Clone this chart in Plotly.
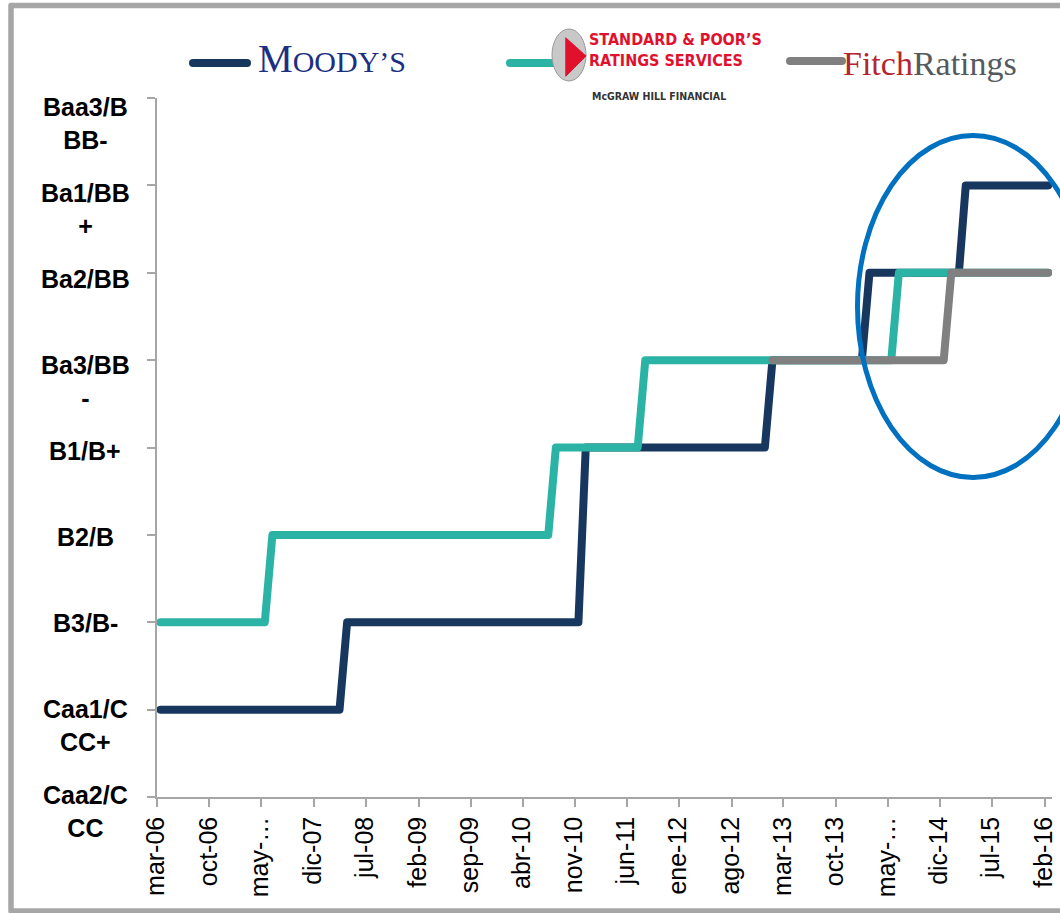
import plotly.graph_objects as go

# ---------------- data ----------------
rating_scale = ["Caa2/CCC", "Caa1/CCC+", "B3/B-", "B2/B", "B1/B+",
                "Ba3/BB-", "Ba2/BB", "Ba1/BB+", "Baa3/BBB-"]
rating_labels = ["Caa2/C<br>CC", "Caa1/C<br>CC+", "B3/B-", "B2/B", "B1/B+",
                 "Ba3/BB<br>-", "Ba2/BB", "Ba1/BB<br>+", "Baa3/B<br>BB-"]

moodys_dates = ["2006-03-15", "2008-03-15", "2008-04-15", "2010-11-15", "2010-12-15",
                "2012-12-15", "2013-01-15", "2014-01-15", "2014-02-15", "2015-02-15",
                "2015-03-15", "2016-02-15"]
moodys_ratings = ["Caa1/CCC+", "Caa1/CCC+", "B3/B-", "B3/B-", "B1/B+",
                  "B1/B+", "Ba3/BB-", "Ba3/BB-", "Ba2/BB", "Ba2/BB",
                  "Ba1/BB+", "Ba1/BB+"]

sp_dates = ["2006-03-15", "2007-05-15", "2007-06-15", "2010-07-15", "2010-08-15",
            "2011-07-15", "2011-08-15", "2014-05-15", "2014-06-15", "2016-02-15"]
sp_ratings = ["B3/B-", "B3/B-", "B2/B", "B2/B", "B1/B+",
              "B1/B+", "Ba3/BB-", "Ba3/BB-", "Ba2/BB", "Ba2/BB"]

fitch_dates = ["2013-01-15", "2014-12-15", "2015-01-15", "2016-02-15"]
fitch_ratings = ["Ba3/BB-", "Ba3/BB-", "Ba2/BB", "Ba2/BB"]

tick_dates = ["2006-03-01", "2006-10-01", "2007-05-01", "2007-12-01", "2008-07-01",
              "2009-02-01", "2009-09-01", "2010-04-01", "2010-11-01", "2011-06-01",
              "2012-01-01", "2012-08-01", "2013-03-01", "2013-10-01", "2014-05-01",
              "2014-12-01", "2015-07-01", "2016-02-01"]
tick_labels = ["mar-06", "oct-06", "may-…", "dic-07", "jul-08", "feb-09", "sep-09",
               "abr-10", "nov-10", "jun-11", "ene-12", "ago-12", "mar-13", "oct-13",
               "may-…", "dic-14", "jul-15", "feb-16"]

# ---------------- styles ----------------
NAVY = "#17375e"
TEAL = "#2bb3a5"
GRAY = "#808080"
AXIS = "#a6a6a6"

W, H = 1060, 913
L, R, T, B = 157, 8, 98, 116
PW, PH = W - L - R, H - T - B


def px(x):
    return (x - L) / PW


def py(y):
    return (H - B - y) / PH


def to_idx(ratings):
    return [rating_scale.index(r) for r in ratings]


fig = go.Figure()
fig.add_trace(go.Scatter(x=moodys_dates, y=to_idx(moodys_ratings), name="Moody's",
                         mode="lines", line=dict(color=NAVY, width=8)))
fig.add_trace(go.Scatter(x=sp_dates, y=to_idx(sp_ratings), name="Standard & Poor's",
                         mode="lines", line=dict(color=TEAL, width=8)))
fig.add_trace(go.Scatter(x=fitch_dates, y=to_idx(fitch_ratings), name="Fitch Ratings",
                         mode="lines", line=dict(color=GRAY, width=8)))

fig.update_layout(
    width=W, height=H,
    margin=dict(l=L, r=R, t=T, b=B, pad=0, autoexpand=False),
    paper_bgcolor="white", plot_bgcolor="white",
    showlegend=False,
    font=dict(family="Liberation Sans, Arial, sans-serif", color="black"),
)

fig.update_xaxes(
    type="date", range=["2006-03-01", "2016-03-01"],
    tickmode="array", tickvals=tick_dates, ticktext=tick_labels,
    tickangle=-90, tickfont=dict(size=25, color="black"),
    ticklabelshift=-1, ticklabeloverflow="allow", automargin=False,
    ticks="outside", ticklen=8, tickwidth=1.5, tickcolor=AXIS,
    showline=True, linecolor=AXIS, linewidth=1.5,
    showgrid=False, zeroline=False,
)
fig.update_yaxes(
    range=[0, 8], tickmode="array", tickvals=list(range(len(rating_scale))),
    showticklabels=False, automargin=False,
    ticks="outside", ticklen=8, tickwidth=1.5, tickcolor=AXIS,
    showline=True, linecolor=AXIS, linewidth=1.5,
    showgrid=False, zeroline=False,
)

annotations = []
# y-axis category labels (centered, multi-line)
for i, lab in enumerate(rating_labels):
    annotations.append(dict(
        x=px(85), xref="paper", y=i, yref="y",
        text="<b>" + lab + "</b>", showarrow=False,
        xanchor="center", yanchor="top", align="center",
        yshift=18 - 1.4 * i,
        font=dict(size=25, color="black", family="Liberation Sans, Arial, sans-serif"),
    ))

# legend "logos" as text
annotations.append(dict(
    x=px(256), y=py(82), xref="paper", yref="paper", xanchor="left", yanchor="bottom",
    showarrow=False, align="left",
    text="M<span style='font-size:30px'>OODY’S</span>",
    font=dict(size=39, color="#1c2f83", family="Liberation Serif, DejaVu Serif, serif"),
))
annotations.append(dict(
    x=px(587), y=py(28), xref="paper", yref="paper", xanchor="left", yanchor="top",
    showarrow=False, align="left",
    text="<b>STANDARD &amp; POOR’S<br>RATINGS SERVICES</b>",
    font=dict(size=16, color="#e1112e",
              family="Liberation Sans Narrow, DejaVu Sans Condensed, Arial Narrow, sans-serif"),
))
annotations.append(dict(
    x=px(590), y=py(88), xref="paper", yref="paper", xanchor="left", yanchor="top",
    showarrow=False, align="left",
    text="<b>McGRAW HILL FINANCIAL</b>",
    font=dict(size=10.5, color="#333333",
              family="Liberation Sans Narrow, DejaVu Sans Condensed, Arial Narrow, sans-serif"),
))
annotations.append(dict(
    x=px(841), y=py(84), xref="paper", yref="paper", xanchor="left", yanchor="bottom",
    showarrow=False, align="left",
    text="<span style='color:#b3262f'>Fitch</span><span style='color:#555a5e'>Ratings</span>",
    font=dict(size=34, family="Liberation Serif, DejaVu Serif, serif"),
))
fig.update_layout(annotations=annotations)

shapes = []
# outer frame (gray border, right side off-canvas)
shapes.append(dict(type="rect", xref="paper", yref="paper",
                   x0=px(11), x1=px(1075), y0=py(911), y1=py(5.5),
                   line=dict(color=AXIS, width=5.5), fillcolor="rgba(0,0,0,0)", layer="below"))
# legend swatches
shapes.append(dict(type="line", xref="paper", yref="paper",
                   x0=px(193), x1=px(247), y0=py(63), y1=py(63),
                   line=dict(color=NAVY, width=8)))
shapes.append(dict(type="line", xref="paper", yref="paper",
                   x0=px(510), x1=px(560), y0=py(63), y1=py(63),
                   line=dict(color=TEAL, width=8)))
shapes.append(dict(type="line", xref="paper", yref="paper",
                   x0=px(790), x1=px(842), y0=py(61), y1=py(61),
                   line=dict(color=GRAY, width=8)))
# S&P emblem (approximation)
shapes.append(dict(type="circle", xref="paper", yref="paper",
                   x0=px(552), x1=px(586), y0=py(81), y1=py(29),
                   line=dict(color="#9a9a9a", width=1), fillcolor="#c8c8c8"))
shapes.append(dict(type="path", xref="paper", yref="paper",
                   path="M {:.4f},{:.4f} L {:.4f},{:.4f} L {:.4f},{:.4f} Z".format(
                       px(566), py(38), px(586), py(56), px(566), py(76)),
                   line=dict(color="#e1112e", width=1), fillcolor="#e1112e"))
# highlight ellipse
shapes.append(dict(type="circle", xref="paper", yref="paper",
                   x0=px(857.5), x1=px(1088.5), y0=py(477.5), y1=py(135.5),
                   line=dict(color="#0070c0", width=5), fillcolor="rgba(0,0,0,0)"))
fig.update_layout(shapes=shapes)

post = """
document.documentElement.style.overflow = 'hidden';
document.body.style.overflow = 'hidden';
document.body.style.margin = '0';
document.body.style.padding = '0';
var gd = document.getElementById('{plot_id}');
if (gd) { gd.style.overflow = 'hidden'; }
document.querySelectorAll('.svg-container, svg.main-svg').forEach(function(el){
  el.style.overflow = 'hidden';
});
document.querySelectorAll('.scatterlayer .js-line, .shapelayer path').forEach(function(p){
  p.style.strokeLinejoin = 'round';
  p.style.strokeLinecap = 'round';
});
"""
fig.write_html("out.html", post_script=post, config={"displayModeBar": False})
